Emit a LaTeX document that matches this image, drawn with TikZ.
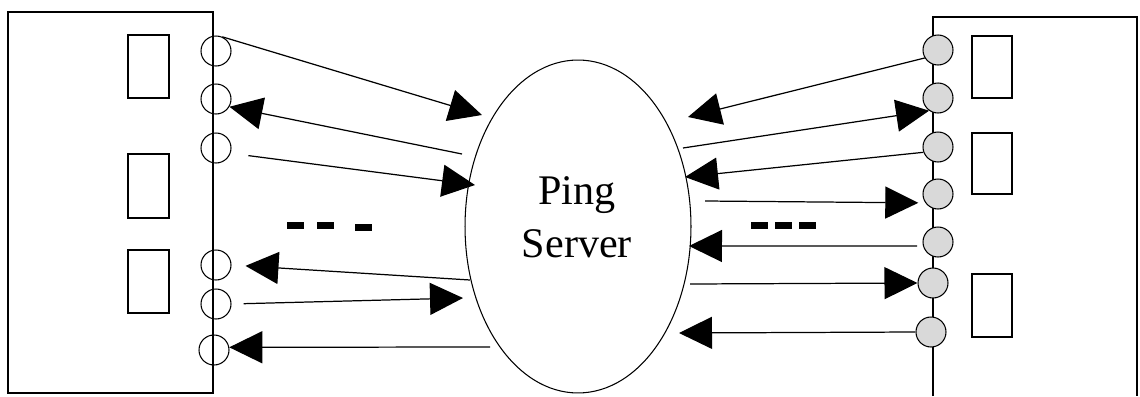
\documentclass[tikz,border=0pt]{standalone}
\usepackage{fontspec}
\setmainfont{Liberation Serif}
\usetikzlibrary{arrows.meta, shapes.geometric}

\begin{document}
\begin{tikzpicture}[x=0.02cm, y=-0.02cm,
    box/.style={draw, line width=0.8pt},
    slot/.style={draw, line width=0.7pt},
    lport/.style={circle, draw, line width=0.6pt, minimum size=0.6cm, inner sep=0pt},
    rport/.style={lport, fill=black!15},
    msg/.style={line width=0.7pt, -{Triangle[length=0.66cm, width=0.64cm]}}]
      \useasboundingbox (0, 0) rectangle (1140, 396);

      % Left host
      \draw[box] (8, 12) rectangle (213, 393);
      \draw[slot] (128, 35) rectangle (169, 98);
      \draw[slot] (128, 154) rectangle (169, 218);
      \draw[slot] (128, 250) rectangle (169, 313);
      \node[lport] (l1) at (216, 51) {};
      \node[lport] (l2) at (216, 99) {};
      \node[lport] (l3) at (216, 148) {};
      \node[lport] (l4) at (216, 265) {};
      \node[lport] (l5) at (216, 304) {};
      \node[lport] (l6) at (214, 350) {};

      % Right host
      \draw[box] (933, 396) -- (933, 17) -- (1137, 17) -- (1137, 396);
      \draw[slot] (972, 36) rectangle (1012, 98);
      \draw[slot] (972, 133) rectangle (1012, 194);
      \draw[slot] (972, 274) rectangle (1012, 337);
      \node[rport] (r1) at (938, 50) {};
      \node[rport] (r2) at (938, 98) {};
      \node[rport] (r3) at (938, 147) {};
      \node[rport] (r4) at (938, 194) {};
      \node[rport] (r5) at (938, 242) {};
      \node[rport] (r6) at (933, 283) {};
      \node[rport] (r7) at (931, 332) {};

      % Ping server
      \node[ellipse, draw, line width=0.6pt, minimum width=4.52cm, minimum height=6.66cm, inner sep=0pt] (srv) at (578, 226.5) {};
      \node[font=\fontsize{24}{30}\selectfont, align=center] (srvname) at (577, 217) {Ping\\Server};

      % Arrow ends at the server
      \coordinate (s1) at (482, 115);
      \coordinate (s2) at (462, 154);
      \coordinate (s3) at (475, 185);
      \coordinate (s4) at (470, 280);
      \coordinate (s5) at (463, 298);
      \coordinate (s6) at (490, 347);
      \coordinate (t1) at (688, 117);
      \coordinate (t2) at (683, 148);
      \coordinate (t3) at (685, 177);
      \coordinate (t4) at (705, 201);
      \coordinate (t5) at (689, 246);
      \coordinate (t6) at (690, 284);
      \coordinate (t7) at (679, 333);

      % Left messages
      \draw[msg] (l1.66) -- (s1);
      \draw[msg] (s2) -- (l2.-30);
      \draw[msg, shorten <=0.36cm] (l3.-20) -- (s3);
      \draw[msg, shorten >=0.28cm] (s4) -- (l4.east);
      \draw[msg, shorten <=0.24cm] (l5.east) -- (s5);
      \draw[msg] (s6) -- (l6.10);

      % Right messages
      \draw[msg] (r1.211) -- (t1);
      \draw[msg] (t2) -- (r2.235);
      \draw[msg] (r3.200) -- (t3);
      \draw[msg, shorten >=0.14cm] (t4) -- (r4.215);
      \draw[msg, shorten <=0.12cm] (r5.195) -- (t5);
      \draw[msg] (t6) -- (r6.west);
      \draw[msg] (r7.west) -- (t7);

      % Ellipsis bars
      \foreach \xa/\ya in {287/222, 317/222, 355/224, 751/222, 775/222, 799/222}
        \fill (\xa, \ya) rectangle ++(17, 7);
    \end{tikzpicture}
\end{document}
